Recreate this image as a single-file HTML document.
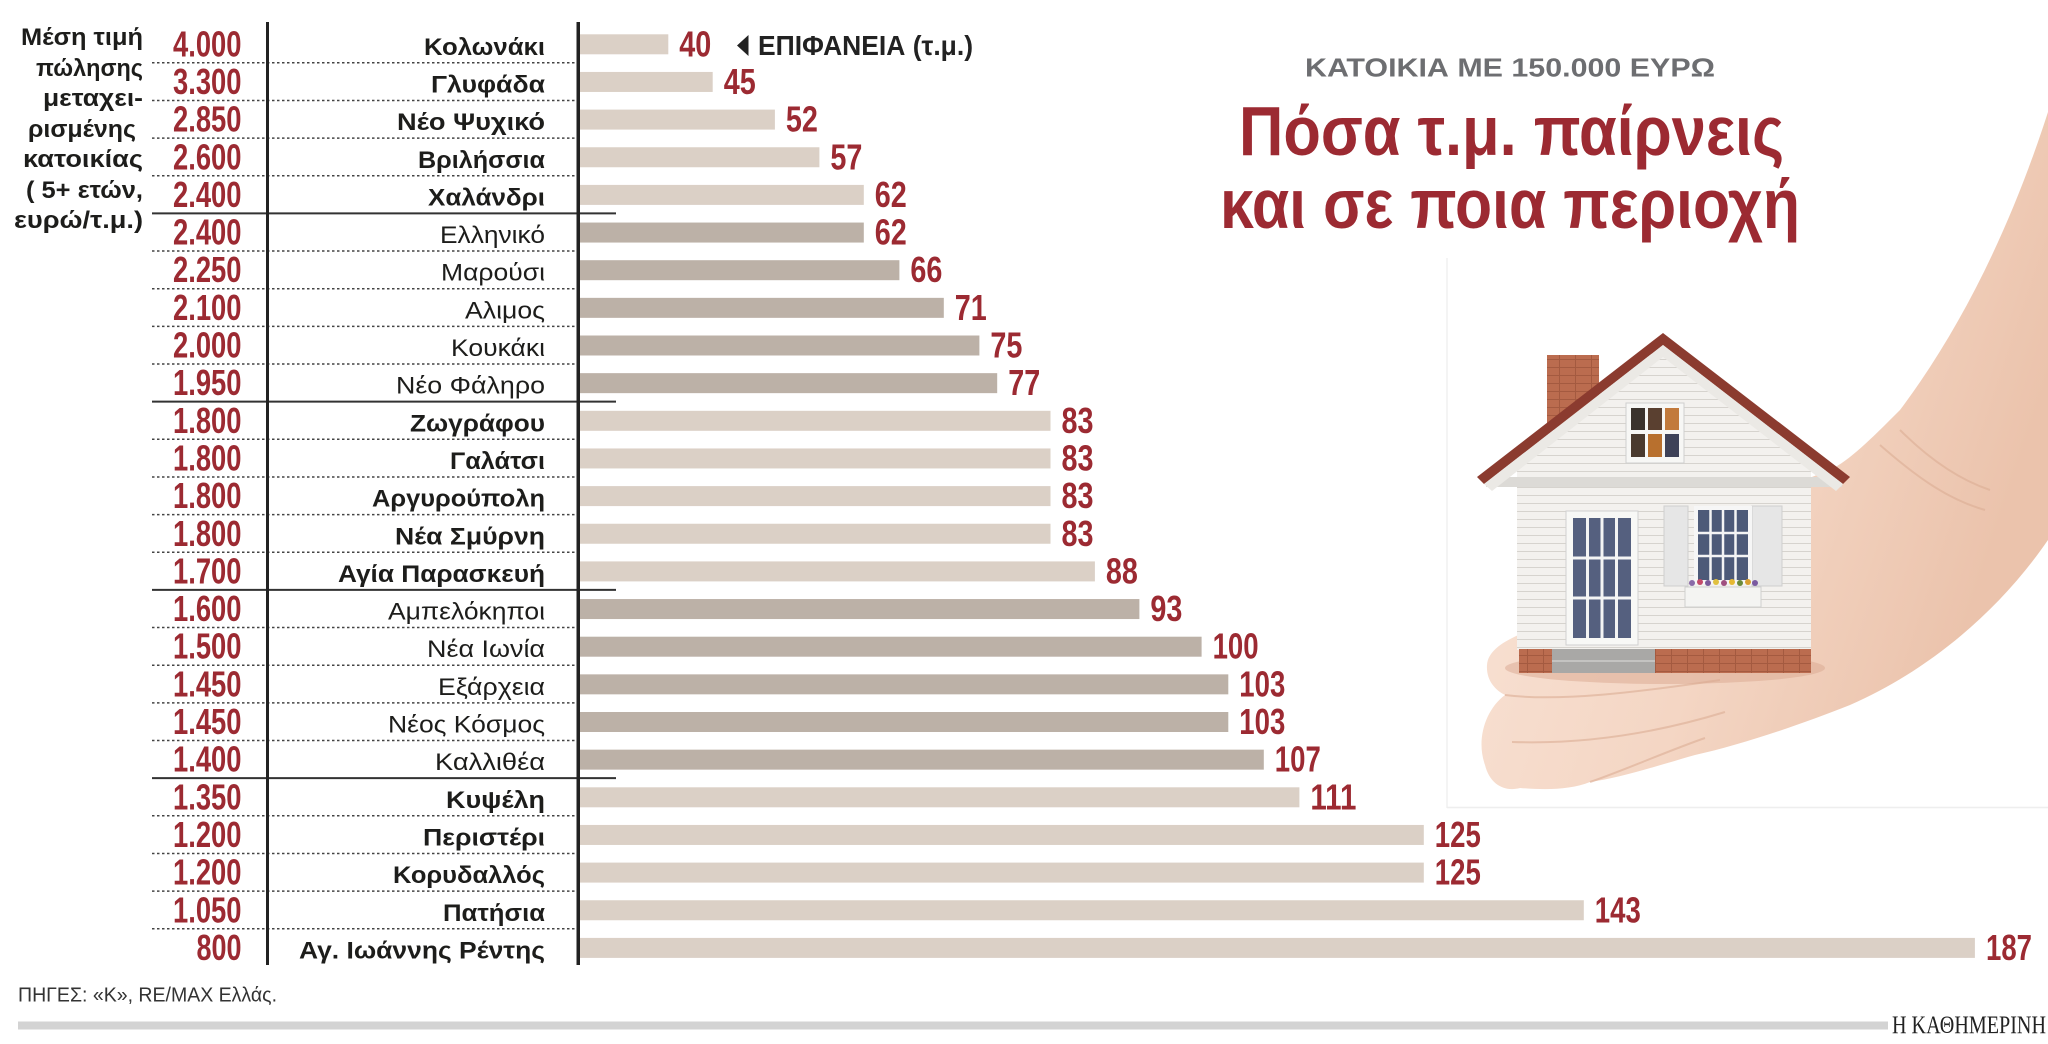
<!DOCTYPE html>
<html><head><meta charset="utf-8"><style>
html,body{margin:0;padding:0;background:#fff;}
svg{display:block;}
text{font-family:"Liberation Sans","Noto Sans CJK SC",sans-serif;}
.nb{font-size:24px;font-weight:bold;fill:#1d1d1b;}
.nr{font-size:24px;font-weight:normal;fill:#1d1d1b;}
.pr{font-size:36px;font-weight:bold;fill:#9c2a32;}
.vl{font-size:36px;font-weight:bold;fill:#9c2a32;}
.lt{font-size:24px;font-weight:bold;fill:#1d1d1b;}
</style></head><body>
<svg width="2048" height="1044" viewBox="0 0 2048 1044" xmlns="http://www.w3.org/2000/svg">
<defs>
<linearGradient id="skin" x1="0" y1="0" x2="1" y2="0.4">
<stop offset="0" stop-color="#fae6da"/><stop offset="0.6" stop-color="#f4d6c4"/><stop offset="1" stop-color="#ebc3ac"/>
</linearGradient>
<pattern id="siding" width="10" height="8" patternUnits="userSpaceOnUse"><rect width="10" height="8" fill="#f3f1ee"/><rect y="7" width="10" height="1" fill="#d6d3ce"/></pattern>
<pattern id="brick" width="16" height="8" patternUnits="userSpaceOnUse"><rect width="16" height="8" fill="#bb6c4f"/><rect y="7" width="16" height="1" fill="#a45a40"/><rect x="7" width="1" height="8" fill="#a45a40"/></pattern>
</defs>

<!-- left title -->
<text class="lt" x="143" y="45" text-anchor="end" textLength="122" lengthAdjust="spacingAndGlyphs">Μέση τιμή</text>
<text class="lt" x="143" y="76" text-anchor="end" textLength="107" lengthAdjust="spacingAndGlyphs">πώλησης</text>
<text class="lt" x="143" y="106" text-anchor="end" textLength="100" lengthAdjust="spacingAndGlyphs">μεταχει-</text>
<text class="lt" x="136" y="137" text-anchor="end" textLength="108" lengthAdjust="spacingAndGlyphs">ρισμένης</text>
<text class="lt" x="143" y="167" text-anchor="end" textLength="120" lengthAdjust="spacingAndGlyphs">κατοικίας</text>
<text class="lt" x="143" y="198" text-anchor="end" textLength="117" lengthAdjust="spacingAndGlyphs">( 5+ ετών,</text>
<text class="lt" x="143" y="228" text-anchor="end" textLength="129" lengthAdjust="spacingAndGlyphs">ευρώ/τ.μ.)</text>

<!-- dotted separators -->
<g stroke="#444" stroke-width="1.5" stroke-dasharray="2.5 2.5">
<line x1="152" x2="577" y1="62.8" y2="62.8"/>
<line x1="152" x2="577" y1="100.45" y2="100.45"/>
<line x1="152" x2="577" y1="138.1" y2="138.1"/>
<line x1="152" x2="577" y1="175.75" y2="175.75"/>
<line x1="152" x2="577" y1="251.05" y2="251.05"/>
<line x1="152" x2="577" y1="288.7" y2="288.7"/>
<line x1="152" x2="577" y1="326.35" y2="326.35"/>
<line x1="152" x2="577" y1="364" y2="364"/>
<line x1="152" x2="577" y1="439.3" y2="439.3"/>
<line x1="152" x2="577" y1="476.95" y2="476.95"/>
<line x1="152" x2="577" y1="514.6" y2="514.6"/>
<line x1="152" x2="577" y1="552.25" y2="552.25"/>
<line x1="152" x2="577" y1="627.55" y2="627.55"/>
<line x1="152" x2="577" y1="665.2" y2="665.2"/>
<line x1="152" x2="577" y1="702.85" y2="702.85"/>
<line x1="152" x2="577" y1="740.5" y2="740.5"/>
<line x1="152" x2="577" y1="815.8" y2="815.8"/>
<line x1="152" x2="577" y1="853.45" y2="853.45"/>
<line x1="152" x2="577" y1="891.1" y2="891.1"/>
<line x1="152" x2="577" y1="928.75" y2="928.75"/>
</g>
<!-- solid separators -->
<g stroke="#333" stroke-width="2">
<line x1="152" x2="616" y1="213.4" y2="213.4"/>
<line x1="152" x2="616" y1="401.65" y2="401.65"/>
<line x1="152" x2="616" y1="589.9" y2="589.9"/>
<line x1="152" x2="616" y1="778.15" y2="778.15"/>
</g>

<!-- vertical lines -->
<rect x="266" y="22" width="3" height="943" fill="#222"/>
<rect x="576.5" y="22" width="3.5" height="943" fill="#222"/>

<!-- bars -->
<g>
<rect x="580" y="34.3" width="88.3" height="20" fill="#dbd0c6"/>
<rect x="580" y="71.95" width="132.7" height="20" fill="#dbd0c6"/>
<rect x="580" y="109.6" width="194.9" height="20" fill="#dbd0c6"/>
<rect x="580" y="147.25" width="239.4" height="20" fill="#dbd0c6"/>
<rect x="580" y="184.9" width="283.8" height="20" fill="#dbd0c6"/>
<rect x="580" y="222.55" width="283.8" height="20" fill="#bcb1a7"/>
<rect x="580" y="260.2" width="319.4" height="20" fill="#bcb1a7"/>
<rect x="580" y="297.85" width="363.8" height="20" fill="#bcb1a7"/>
<rect x="580" y="335.5" width="399.4" height="20" fill="#bcb1a7"/>
<rect x="580" y="373.15" width="417.2" height="20" fill="#bcb1a7"/>
<rect x="580" y="410.8" width="470.5" height="20" fill="#dbd0c6"/>
<rect x="580" y="448.45" width="470.5" height="20" fill="#dbd0c6"/>
<rect x="580" y="486.1" width="470.5" height="20" fill="#dbd0c6"/>
<rect x="580" y="523.75" width="470.5" height="20" fill="#dbd0c6"/>
<rect x="580" y="561.4" width="514.9" height="20" fill="#dbd0c6"/>
<rect x="580" y="599.05" width="559.4" height="20" fill="#bcb1a7"/>
<rect x="580" y="636.7" width="621.6" height="20" fill="#bcb1a7"/>
<rect x="580" y="674.35" width="648.3" height="20" fill="#bcb1a7"/>
<rect x="580" y="712" width="648.3" height="20" fill="#bcb1a7"/>
<rect x="580" y="749.65" width="683.8" height="20" fill="#bcb1a7"/>
<rect x="580" y="787.3" width="719.4" height="20" fill="#dbd0c6"/>
<rect x="580" y="824.95" width="843.8" height="20" fill="#dbd0c6"/>
<rect x="580" y="862.6" width="843.8" height="20" fill="#dbd0c6"/>
<rect x="580" y="900.25" width="1003.8" height="20" fill="#dbd0c6"/>
<rect x="580" y="937.9" width="1394.9" height="20" fill="#dbd0c6"/>
</g>

<!-- prices -->
<g text-anchor="end">
<text class="pr" x="241.5" y="56.3" textLength="68.5" lengthAdjust="spacingAndGlyphs">4.000</text>
<text class="pr" x="241.5" y="93.95" textLength="68.5" lengthAdjust="spacingAndGlyphs">3.300</text>
<text class="pr" x="241.5" y="131.6" textLength="68.5" lengthAdjust="spacingAndGlyphs">2.850</text>
<text class="pr" x="241.5" y="169.25" textLength="68.5" lengthAdjust="spacingAndGlyphs">2.600</text>
<text class="pr" x="241.5" y="206.9" textLength="68.5" lengthAdjust="spacingAndGlyphs">2.400</text>
<text class="pr" x="241.5" y="244.55" textLength="68.5" lengthAdjust="spacingAndGlyphs">2.400</text>
<text class="pr" x="241.5" y="282.2" textLength="68.5" lengthAdjust="spacingAndGlyphs">2.250</text>
<text class="pr" x="241.5" y="319.85" textLength="68.5" lengthAdjust="spacingAndGlyphs">2.100</text>
<text class="pr" x="241.5" y="357.5" textLength="68.5" lengthAdjust="spacingAndGlyphs">2.000</text>
<text class="pr" x="241.5" y="395.15" textLength="68.5" lengthAdjust="spacingAndGlyphs">1.950</text>
<text class="pr" x="241.5" y="432.8" textLength="68.5" lengthAdjust="spacingAndGlyphs">1.800</text>
<text class="pr" x="241.5" y="470.45" textLength="68.5" lengthAdjust="spacingAndGlyphs">1.800</text>
<text class="pr" x="241.5" y="508.1" textLength="68.5" lengthAdjust="spacingAndGlyphs">1.800</text>
<text class="pr" x="241.5" y="545.75" textLength="68.5" lengthAdjust="spacingAndGlyphs">1.800</text>
<text class="pr" x="241.5" y="583.4" textLength="68.5" lengthAdjust="spacingAndGlyphs">1.700</text>
<text class="pr" x="241.5" y="621.05" textLength="68.5" lengthAdjust="spacingAndGlyphs">1.600</text>
<text class="pr" x="241.5" y="658.7" textLength="68.5" lengthAdjust="spacingAndGlyphs">1.500</text>
<text class="pr" x="241.5" y="696.35" textLength="68.5" lengthAdjust="spacingAndGlyphs">1.450</text>
<text class="pr" x="241.5" y="734" textLength="68.5" lengthAdjust="spacingAndGlyphs">1.450</text>
<text class="pr" x="241.5" y="771.65" textLength="68.5" lengthAdjust="spacingAndGlyphs">1.400</text>
<text class="pr" x="241.5" y="809.3" textLength="68.5" lengthAdjust="spacingAndGlyphs">1.350</text>
<text class="pr" x="241.5" y="846.95" textLength="68.5" lengthAdjust="spacingAndGlyphs">1.200</text>
<text class="pr" x="241.5" y="884.6" textLength="68.5" lengthAdjust="spacingAndGlyphs">1.200</text>
<text class="pr" x="241.5" y="922.25" textLength="68.5" lengthAdjust="spacingAndGlyphs">1.050</text>
<text class="pr" x="241.5" y="959.9" textLength="45" lengthAdjust="spacingAndGlyphs">800</text>
</g>

<!-- names -->
<g text-anchor="end">
<text class="nb" x="545" y="54.8" textLength="121" lengthAdjust="spacingAndGlyphs">Κολωνάκι</text>
<text class="nb" x="545" y="92.45" textLength="114" lengthAdjust="spacingAndGlyphs">Γλυφάδα</text>
<text class="nb" x="545" y="130.1" textLength="148" lengthAdjust="spacingAndGlyphs">Νέο Ψυχικό</text>
<text class="nb" x="545" y="167.75" textLength="127" lengthAdjust="spacingAndGlyphs">Βριλήσσια</text>
<text class="nb" x="545" y="205.4" textLength="117" lengthAdjust="spacingAndGlyphs">Χαλάνδρι</text>
<text class="nr" x="545" y="243.05" textLength="105" lengthAdjust="spacingAndGlyphs">Ελληνικό</text>
<text class="nr" x="545" y="280.7" textLength="104" lengthAdjust="spacingAndGlyphs">Μαρούσι</text>
<text class="nr" x="545" y="318.35" textLength="80" lengthAdjust="spacingAndGlyphs">Αλιμος</text>
<text class="nr" x="545" y="356" textLength="94" lengthAdjust="spacingAndGlyphs">Κουκάκι</text>
<text class="nr" x="545" y="393.65" textLength="149" lengthAdjust="spacingAndGlyphs">Νέο Φάληρο</text>
<text class="nb" x="545" y="431.3" textLength="135" lengthAdjust="spacingAndGlyphs">Ζωγράφου</text>
<text class="nb" x="545" y="468.95" textLength="95" lengthAdjust="spacingAndGlyphs">Γαλάτσι</text>
<text class="nb" x="545" y="506.6" textLength="173" lengthAdjust="spacingAndGlyphs">Αργυρούπολη</text>
<text class="nb" x="545" y="544.25" textLength="150" lengthAdjust="spacingAndGlyphs">Νέα Σμύρνη</text>
<text class="nb" x="545" y="581.9" textLength="207" lengthAdjust="spacingAndGlyphs">Αγία Παρασκευή</text>
<text class="nr" x="545" y="619.55" textLength="157" lengthAdjust="spacingAndGlyphs">Αμπελόκηποι</text>
<text class="nr" x="545" y="657.2" textLength="118" lengthAdjust="spacingAndGlyphs">Νέα Ιωνία</text>
<text class="nr" x="545" y="694.85" textLength="107" lengthAdjust="spacingAndGlyphs">Εξάρχεια</text>
<text class="nr" x="545" y="732.5" textLength="157" lengthAdjust="spacingAndGlyphs">Νέος Κόσμος</text>
<text class="nr" x="545" y="770.15" textLength="110" lengthAdjust="spacingAndGlyphs">Καλλιθέα</text>
<text class="nb" x="545" y="807.8" textLength="99" lengthAdjust="spacingAndGlyphs">Κυψέλη</text>
<text class="nb" x="545" y="845.45" textLength="122" lengthAdjust="spacingAndGlyphs">Περιστέρι</text>
<text class="nb" x="545" y="883.1" textLength="152" lengthAdjust="spacingAndGlyphs">Κορυδαλλός</text>
<text class="nb" x="545" y="920.75" textLength="102" lengthAdjust="spacingAndGlyphs">Πατήσια</text>
<text class="nb" x="545" y="958.4" textLength="246" lengthAdjust="spacingAndGlyphs">Αγ. Ιωάννης Ρέντης</text>
</g>

<!-- values -->
<g>
<text class="vl" x="679.3" y="56.3" textLength="32" lengthAdjust="spacingAndGlyphs">40</text>
<text class="vl" x="723.7" y="93.95" textLength="32" lengthAdjust="spacingAndGlyphs">45</text>
<text class="vl" x="785.9" y="131.6" textLength="32" lengthAdjust="spacingAndGlyphs">52</text>
<text class="vl" x="830.4" y="169.25" textLength="32" lengthAdjust="spacingAndGlyphs">57</text>
<text class="vl" x="874.8" y="206.9" textLength="32" lengthAdjust="spacingAndGlyphs">62</text>
<text class="vl" x="874.8" y="244.55" textLength="32" lengthAdjust="spacingAndGlyphs">62</text>
<text class="vl" x="910.4" y="282.2" textLength="32" lengthAdjust="spacingAndGlyphs">66</text>
<text class="vl" x="954.8" y="319.85" textLength="32" lengthAdjust="spacingAndGlyphs">71</text>
<text class="vl" x="990.4" y="357.5" textLength="32" lengthAdjust="spacingAndGlyphs">75</text>
<text class="vl" x="1008.2" y="395.15" textLength="32" lengthAdjust="spacingAndGlyphs">77</text>
<text class="vl" x="1061.5" y="432.8" textLength="32" lengthAdjust="spacingAndGlyphs">83</text>
<text class="vl" x="1061.5" y="470.45" textLength="32" lengthAdjust="spacingAndGlyphs">83</text>
<text class="vl" x="1061.5" y="508.1" textLength="32" lengthAdjust="spacingAndGlyphs">83</text>
<text class="vl" x="1061.5" y="545.75" textLength="32" lengthAdjust="spacingAndGlyphs">83</text>
<text class="vl" x="1105.9" y="583.4" textLength="32" lengthAdjust="spacingAndGlyphs">88</text>
<text class="vl" x="1150.4" y="621.05" textLength="32" lengthAdjust="spacingAndGlyphs">93</text>
<text class="vl" x="1212.6" y="658.7" textLength="46" lengthAdjust="spacingAndGlyphs">100</text>
<text class="vl" x="1239.3" y="696.35" textLength="46" lengthAdjust="spacingAndGlyphs">103</text>
<text class="vl" x="1239.3" y="734" textLength="46" lengthAdjust="spacingAndGlyphs">103</text>
<text class="vl" x="1274.8" y="771.65" textLength="46" lengthAdjust="spacingAndGlyphs">107</text>
<text class="vl" x="1310.4" y="809.3" textLength="46" lengthAdjust="spacingAndGlyphs">111</text>
<text class="vl" x="1434.8" y="846.95" textLength="46" lengthAdjust="spacingAndGlyphs">125</text>
<text class="vl" x="1434.8" y="884.6" textLength="46" lengthAdjust="spacingAndGlyphs">125</text>
<text class="vl" x="1594.8" y="922.25" textLength="46" lengthAdjust="spacingAndGlyphs">143</text>
<text class="vl" x="1986" y="959.9" textLength="46" lengthAdjust="spacingAndGlyphs">187</text>
</g>

<!-- legend -->
<polygon points="737,45.5 748.5,35 748.5,56" fill="#222"/>
<text x="758" y="55" font-size="28" font-weight="bold" fill="#222" textLength="215" lengthAdjust="spacingAndGlyphs">ΕΠΙΦΑΝΕΙΑ (τ.μ.)</text>

<!-- titles -->
<text x="1305" y="76.7" font-size="26" font-weight="bold" fill="#6d6e71" textLength="410" lengthAdjust="spacingAndGlyphs">ΚΑΤΟΙΚΙΑ ΜΕ 150.000 ΕΥΡΩ</text>
<text x="1239" y="155" font-size="70" font-weight="bold" fill="#9c2a32" textLength="545" lengthAdjust="spacingAndGlyphs">Πόσα τ.μ. παίρνεις</text>
<text x="1220" y="228" font-size="70" font-weight="bold" fill="#9c2a32" textLength="580" lengthAdjust="spacingAndGlyphs">και σε ποια περιοχή</text>

<!-- photo frame (faint) -->
<line x1="1447" y1="258" x2="1447" y2="808" stroke="#f0f0f0" stroke-width="1.5"/>
<line x1="1447" y1="807.5" x2="2048" y2="807.5" stroke="#eeeeee" stroke-width="1.5"/>

<!-- hand -->
<path d="M2048 112 C2010 230 1960 330 1900 410 C1870 440 1850 460 1830 470 L1700 520 L1530 630 C1505 640 1488 650 1487 665 C1486 680 1495 690 1505 695 C1485 710 1476 740 1485 765 C1490 785 1505 792 1520 788 C1545 790 1570 790 1590 782 C1620 778 1660 765 1695 755 C1740 745 1800 725 1850 705 C1930 670 2000 610 2048 540 Z" fill="url(#skin)"/>
<g fill="none" stroke="#dcae95" stroke-width="2" opacity="0.6">
<path d="M1505 695 C1560 702 1640 692 1720 680"/>
<path d="M1512 742 C1570 744 1640 738 1725 712"/>
<path d="M1590 782 C1625 770 1665 752 1705 738"/>
<path d="M1900 430 C1930 460 1960 480 1990 490"/>
<path d="M1880 445 C1920 480 1950 500 1985 510"/>
</g>
<ellipse cx="1665" cy="668" rx="160" ry="16" fill="#d9a890" opacity="0.5"/>

<!-- house -->
<rect x="1547" y="355" width="52" height="75" fill="url(#brick)"/>
<polygon points="1663,352 1517,465 1517,650 1811,650 1811,465" fill="url(#siding)"/>
<rect x="1486" y="477" width="356" height="10" fill="#dcdad6"/>
<polygon points="1663,333 1477,477 1484,484 1663,345 1843,484 1850,477" fill="#8b3b2f"/>
<polygon points="1663,345 1484,484 1492,491 1663,357 1836,491 1843,484" fill="#ebe9e5"/>
<!-- attic window -->
<rect x="1626" y="403" width="58" height="60" fill="#f7f7f5" stroke="#cfcfcf"/>
<rect x="1631" y="408" width="14" height="22" fill="#3b332d"/>
<rect x="1648" y="408" width="14" height="22" fill="#5a4030"/>
<rect x="1665" y="408" width="14" height="22" fill="#c27a3c"/>
<rect x="1631" y="434" width="14" height="23" fill="#4a3a2e"/>
<rect x="1648" y="434" width="14" height="23" fill="#b8702e"/>
<rect x="1665" y="434" width="14" height="23" fill="#3e4258"/>
<!-- door -->
<rect x="1566" y="511" width="72" height="134" fill="#f8f8f6" stroke="#d0d0d0"/>
<rect x="1573" y="518" width="58" height="120" fill="#55607f"/>
<g stroke="#f4f4f4" stroke-width="3">
<line x1="1587.5" y1="518" x2="1587.5" y2="638"/><line x1="1602" y1="518" x2="1602" y2="638"/><line x1="1616.5" y1="518" x2="1616.5" y2="638"/>
<line x1="1573" y1="558" x2="1631" y2="558"/><line x1="1573" y1="598" x2="1631" y2="598"/>
</g>
<!-- window -->
<rect x="1664" y="506" width="24" height="80" fill="#e6e6e6" stroke="#cfcfcf"/>
<rect x="1752" y="506" width="30" height="80" fill="#e6e6e6" stroke="#cfcfcf"/>
<rect x="1694" y="506" width="58" height="78" fill="#f6f6f6"/>
<rect x="1698" y="510" width="50" height="70" fill="#4d5a78"/>
<g stroke="#f4f4f4" stroke-width="2.5">
<line x1="1710.5" y1="510" x2="1710.5" y2="580"/><line x1="1723" y1="510" x2="1723" y2="580"/><line x1="1735.5" y1="510" x2="1735.5" y2="580"/>
<line x1="1698" y1="533" x2="1748" y2="533"/><line x1="1698" y1="556" x2="1748" y2="556"/>
</g>
<g>
<circle cx="1692" cy="583" r="3" fill="#8a6aa8"/><circle cx="1700" cy="582" r="3" fill="#c44a6a"/><circle cx="1708" cy="583" r="3" fill="#7a5a9a"/><circle cx="1716" cy="582" r="3" fill="#e0c040"/><circle cx="1724" cy="583" r="3" fill="#a05080"/><circle cx="1732" cy="582" r="3" fill="#e6b830"/><circle cx="1740" cy="583" r="3" fill="#6a8a3a"/><circle cx="1748" cy="582" r="3" fill="#d8a030"/><circle cx="1755" cy="583" r="3" fill="#7a5aa0"/>
</g>
<rect x="1685" y="587" width="76" height="20" fill="#f4f4f2" stroke="#cfcfcf"/>
<!-- foundation -->
<rect x="1519" y="649" width="292" height="24" fill="url(#brick)"/>
<rect x="1552" y="649" width="103" height="24" fill="#a9a8a6"/>
<line x1="1552" y1="661" x2="1655" y2="661" stroke="#c4c3c1" stroke-width="2"/>

<!-- footer -->
<text x="18" y="1001.7" font-size="20" fill="#333" textLength="259" lengthAdjust="spacingAndGlyphs">ΠΗΓΕΣ: «Κ», RE/MAX Ελλάς.</text>
<rect x="18" y="1021.5" width="1870" height="8" fill="#d3d3d3"/>
<text x="1892" y="1033" font-size="25" fill="#222" style="font-family:'Liberation Serif',serif" textLength="154" lengthAdjust="spacingAndGlyphs">Η ΚΑΘΗΜΕΡΙΝΗ</text>
</svg>
</body></html>
